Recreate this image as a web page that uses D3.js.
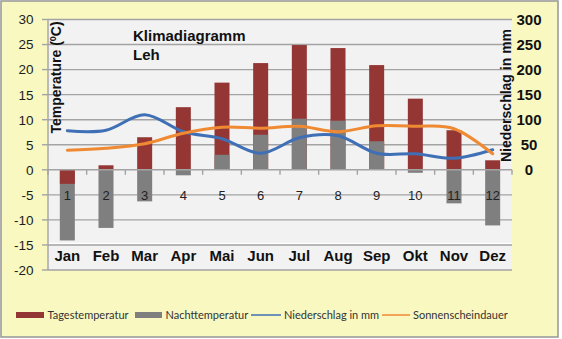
<!DOCTYPE html>
<html>
<head>
<meta charset="utf-8">
<script src="https://cdn.jsdelivr.net/npm/d3@7/dist/d3.min.js"></script>
<style>
  html, body { margin: 0; padding: 0; background: #ffffff; }
  svg { display: block; }
</style>
</head>
<body>
<svg id="chart" width="562" height="339"></svg>
<script>
// ---- data ----
const months = ["Jan","Feb","Mar","Apr","Mai","Jun","Jul","Aug","Sep","Okt","Nov","Dez"];
const monthNums = ["1","2","3","4","5","6","7","8","9","10","11","12"];
const tagesTemp = [-2.8, 0.9, 6.5, 12.5, 17.4, 21.3, 24.9, 24.3, 20.9, 14.2, 7.9, 1.9];
const nachtTemp = [-14.1, -11.6, -6.3, -1.1, 3.0, 7.0, 10.2, 9.8, 5.7, -0.6, -6.7, -11.1];
const niederschlag = [78, 79, 110, 76, 62, 33, 64, 68, 33, 32, 23, 40];      // mm, right axis
const sonnenschein = [3.9, 4.3, 5.2, 7.3, 8.5, 8.3, 8.7, 7.6, 8.8, 8.7, 8.2, 3.2]; // left axis
const leftTicks = [-20, -15, -10, -5, 0, 5, 10, 15, 20, 25, 30];
const rightTicks = [0, 50, 100, 150, 200, 250, 300];
const legendLabels = ["Tagestemperatur", "Nachttemperatur", "Niederschlag in mm", "Sonnenscheindauer"];

// ---- layout ----
const svg = d3.select("#chart");
const W = 562, H = 339;
const plot = { left: 48, right: 512, top: 19.5, bottom: 270 };
const colors = { bg: "#f9f8c0", plot: "#f2f2f2", grid: "#a3a3a3", red: "#943634", gray: "#7f7f7f",
                 blue: "#3f6fb5", orange: "#ef8a33" };

const x = d3.scaleBand().domain(months).range([plot.left, plot.right]).paddingInner(0).paddingOuter(0);
const yL = d3.scaleLinear().domain([-20, 30]).range([plot.bottom, plot.top]);
const yR = d3.scaleLinear().domain([0, 300]).range([yL(0), yL(30)]);

// chart background + frame
svg.append("rect").attr("x", 1).attr("y", 1).attr("width", 557).attr("height", 336)
  .attr("fill", colors.bg).attr("stroke", "#9c9c9c").attr("stroke-width", 1.6);

// plot area
svg.append("rect").attr("x", plot.left).attr("y", plot.top)
  .attr("width", plot.right - plot.left).attr("height", plot.bottom - plot.top)
  .attr("fill", colors.plot);

// gridlines
svg.append("g").selectAll("line").data(leftTicks.filter(d => d !== 0)).join("line")
  .attr("x1", plot.left).attr("x2", plot.right)
  .attr("y1", d => yL(d)).attr("y2", d => yL(d))
  .attr("stroke", colors.grid).attr("stroke-width", 1.4);
// white highlight above -15 line
svg.append("line").attr("x1", plot.left).attr("x2", plot.right)
  .attr("y1", yL(-15) - 1.6).attr("y2", yL(-15) - 1.6)
  .attr("stroke", "#ffffff").attr("stroke-width", 1.2);

// left axis line + ticks
svg.append("line").attr("x1", plot.left).attr("x2", plot.left).attr("y1", plot.top).attr("y2", plot.bottom)
  .attr("stroke", colors.grid).attr("stroke-width", 1.4);
svg.append("g").selectAll("line").data(leftTicks).join("line")
  .attr("x1", plot.left - 6).attr("x2", plot.left)
  .attr("y1", d => yL(d)).attr("y2", d => yL(d))
  .attr("stroke", colors.grid).attr("stroke-width", 1.4);
svg.append("g").selectAll("text").data(leftTicks).join("text")
  .attr("x", 33.5).attr("y", d => yL(d)).attr("dy", "0.36em")
  .attr("text-anchor", "end")
  .attr("font-family", "Liberation Sans, Arial, sans-serif").attr("font-size", 13.5)
  .attr("fill", "#1d1d1d").text(d => d);

// right axis labels
svg.append("g").selectAll("text").data(rightTicks).join("text")
  .attr("x", 529).attr("y", d => yR(d)).attr("dy", "0.36em")
  .attr("text-anchor", "middle")
  .attr("font-family", "Liberation Sans, Arial, sans-serif").attr("font-size", 15).attr("font-weight", "bold")
  .attr("fill", "#111").text(d => d);

// bars (overlapping; the smaller magnitude drawn on top)
const bw = 15;
const barData = [];
months.forEach((m, i) => {
  const pair = [
    { m, v: tagesTemp[i], c: colors.red },
    { m, v: nachtTemp[i], c: colors.gray }
  ].sort((a, b) => Math.abs(b.v) - Math.abs(a.v));
  barData.push(...pair);
});
svg.append("g").selectAll("rect").data(barData).join("rect")
  .attr("x", d => x(d.m) + x.bandwidth() / 2 - bw / 2)
  .attr("width", bw)
  .attr("y", d => Math.min(yL(0), yL(d.v)))
  .attr("height", d => Math.abs(yL(d.v) - yL(0)))
  .attr("fill", d => d.c);

// x axis at 0
svg.append("line").attr("x1", plot.left).attr("x2", plot.right).attr("y1", yL(0)).attr("y2", yL(0))
  .attr("stroke", colors.grid).attr("stroke-width", 1.4);
const boundaries = months.map(m => x(m) + x.bandwidth()).concat([plot.left]);
svg.append("g").selectAll("line").data(boundaries).join("line")
  .attr("x1", d => d).attr("x2", d => d).attr("y1", yL(0)).attr("y2", yL(0) + 5)
  .attr("stroke", colors.grid).attr("stroke-width", 1.4);

// month numbers
svg.append("g").selectAll("text").data(monthNums).join("text")
  .attr("x", (d, i) => x(months[i]) + x.bandwidth() / 2).attr("y", 199.5)
  .attr("text-anchor", "middle")
  .attr("font-family", "Liberation Sans, Arial, sans-serif").attr("font-size", 13)
  .attr("fill", "#222").text(d => d);

// month names
svg.append("g").selectAll("text").data(months).join("text")
  .attr("x", d => x(d) + x.bandwidth() / 2).attr("y", 261)
  .attr("text-anchor", "middle")
  .attr("font-family", "Liberation Sans, Arial, sans-serif").attr("font-size", 15).attr("font-weight", "bold")
  .attr("fill", "#111").text(d => d);

// lines
const cx = i => x(months[i]) + x.bandwidth() / 2;
const curve = d3.curveCardinal.tension(0);
svg.append("path").datum(niederschlag)
  .attr("d", d3.line().x((d, i) => cx(i)).y(d => yR(d)).curve(curve))
  .attr("fill", "none").attr("stroke", colors.blue).attr("stroke-width", 3).attr("stroke-linecap", "round");
svg.append("path").datum(sonnenschein)
  .attr("d", d3.line().x((d, i) => cx(i)).y(d => yL(d)).curve(curve))
  .attr("fill", "none").attr("stroke", colors.orange).attr("stroke-width", 3).attr("stroke-linecap", "round");

// titles
const bold = "Liberation Sans, Arial, sans-serif";
svg.append("text").attr("x", 133).attr("y", 41)
  .attr("font-family", bold).attr("font-size", 15).attr("font-weight", "bold").attr("fill", "#111")
  .text("Klimadiagramm");
svg.append("text").attr("x", 133).attr("y", 59.5)
  .attr("font-family", bold).attr("font-size", 15).attr("font-weight", "bold").attr("fill", "#111")
  .text("Leh");

const tt = svg.append("text").attr("transform", "translate(60.5,133.5) rotate(-90)")
  .attr("font-family", bold).attr("font-size", 14).attr("font-weight", "bold").attr("fill", "#111");
tt.append("tspan").text("Temperature (");
tt.append("tspan").attr("font-size", 9).attr("dy", -5).text("0");
tt.append("tspan").attr("dy", 5).text("C)");

svg.append("text").attr("transform", "translate(510.5,162) rotate(-90)")
  .attr("font-family", bold).attr("font-size", 14).attr("font-weight", "bold").attr("fill", "#111")
  .text("Niederschlag in mm");

// legend
const lg = svg.append("g").attr("font-family", "Lato, 'Open Sans', sans-serif").attr("font-size", 11).attr("fill", "#333");
const legendItems = [
  { type: "rect", color: colors.red, x0: 16, x1: 44, tx: 47.5 },
  { type: "rect", color: colors.gray, x0: 135, x1: 162, tx: 165.5 },
  { type: "line", color: colors.blue, x0: 251, x1: 281, tx: 284 },
  { type: "line", color: colors.orange, x0: 382, x1: 410, tx: 413 }
];
legendItems.forEach((it, i) => {
  if (it.type === "rect") {
    lg.append("rect").attr("x", it.x0).attr("y", 312).attr("width", it.x1 - it.x0).attr("height", 6).attr("fill", it.color);
  } else {
    lg.append("line").attr("x1", it.x0).attr("x2", it.x1).attr("y1", 315).attr("y2", 315)
      .attr("stroke", it.color).attr("stroke-width", 1.5);
  }
  lg.append("text").attr("x", it.tx).attr("y", 318.5).text(legendLabels[i]);
});
</script>
</body>
</html>
